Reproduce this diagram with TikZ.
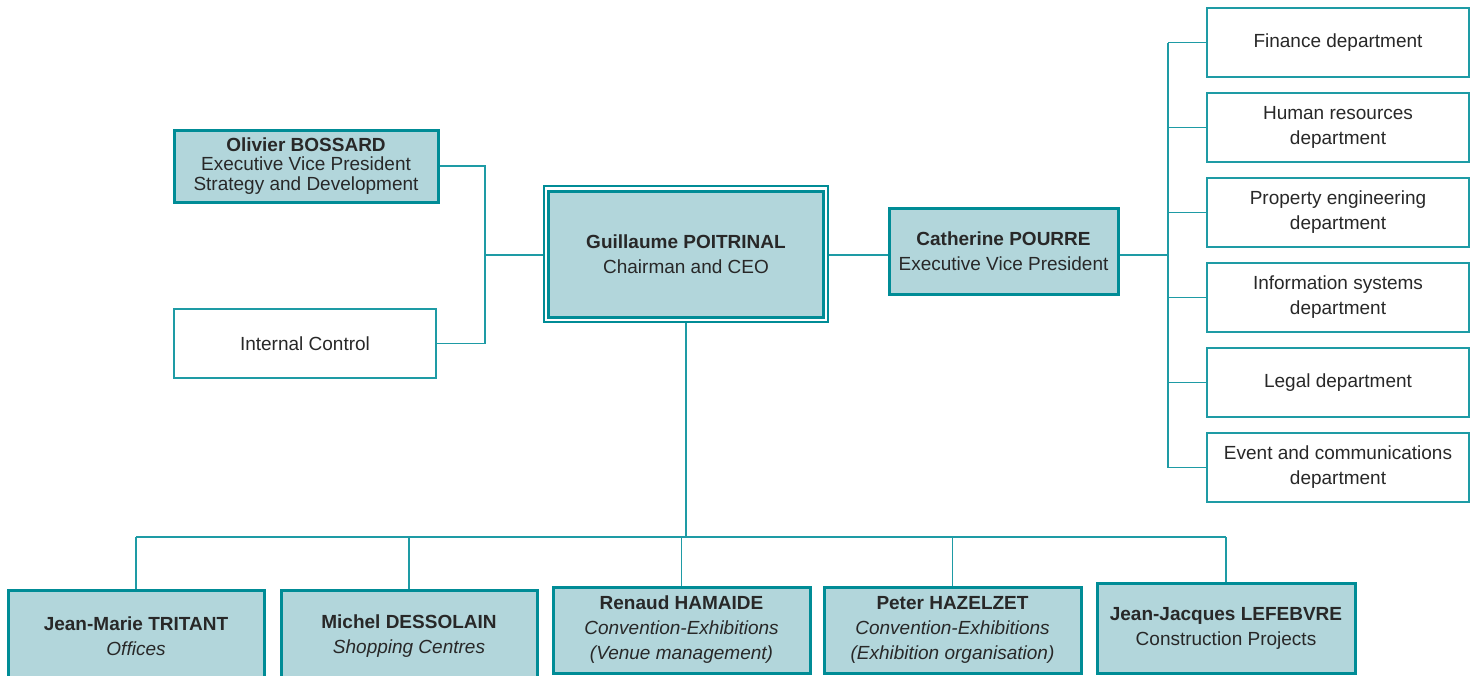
\documentclass[tikz,border=0pt]{standalone}
\usepackage{fontspec}
\setmainfont{Liberation Sans}
\usepackage{tikz}
\usetikzlibrary{positioning}

\definecolor{orgteal}{RGB}{0,140,150}
\definecolor{orglight}{RGB}{30,155,165}
\definecolor{orgfill}{RGB}{178,214,219}
\definecolor{orgtext}{RGB}{40,40,40}

\begin{document}
\begin{tikzpicture} [
            x=1pt, y=-1pt,
            % ----- Node definitions ----- %
            personnode/.style = {
                draw = orgteal,
                line width = 3pt,
                rectangle,
                fill = orgfill,
                align = center,
                text = orgtext,
                font = \fontsize{19}{25}\selectfont,
                inner sep = 0pt
            },
            deptnode/.style = {
                draw = orglight,
                line width = 1.3pt,
                rectangle,
                fill = white,
                align = center,
                text = orgtext,
                font = \fontsize{19}{25}\selectfont,
                minimum width = 262pt,
                minimum height = 69pt,
                inner sep = 0pt
            },
            link/.style = {
                draw = orglight,
                line width = 1.3pt
            },
    ]
    \useasboundingbox (0,0) rectangle (1475,675);

            % ----- Node constructions ----- %
        \node [personnode, minimum width=264pt, minimum height=72pt,
               font=\fontsize{19}{19.5}\selectfont] (bossard) at (306,166) {
            \textbf{Olivier BOSSARD}\\Executive Vice President\\Strategy and Development};
        \node [deptnode] (internal) at (305,343.5) {Internal Control};

        \node [draw=orgteal, line width=1.3pt, minimum width=284pt,
               minimum height=136pt] (ceoframe) at (686,254) {};
        \node [personnode, minimum width=275pt, minimum height=126pt] (ceo) at (686,254) {
            \textbf{Guillaume POITRINAL}\\Chairman and CEO};

        \node [personnode, minimum width=229pt, minimum height=86pt] (pourre) at (1003.5,251) {
            \textbf{Catherine POURRE}\\Executive Vice President};

        \node [deptnode] (finance) at (1338,42.5) {Finance department};
        \node [deptnode, below=14.7pt of finance] (hr) {Human resources\\department};
        \node [deptnode, below=14.7pt of hr] (property) {Property engineering\\department};
        \node [deptnode, below=14.7pt of property] (infosys) {Information systems\\department};
        \node [deptnode, below=14.7pt of infosys] (legal) {Legal department};
        \node [deptnode, below=14.7pt of legal] (event) {Event and communications\\department};

        \node [personnode, minimum width=256pt, minimum height=92pt] (tritant) at (136,636) {
            \textbf{Jean-Marie TRITANT}\\\textit{Offices}};
        \node [personnode, minimum width=256pt, minimum height=92pt] (dessolain) at (409,636) {
            \textbf{Michel DESSOLAIN}\\\textit{Shopping Centres}};
        \node [personnode, minimum width=257pt, minimum height=86pt] (hamaide) at (681.5,630) {
            \textbf{Renaud HAMAIDE}\\\textit{Convention-Exhibitions}\\\textit{(Venue management)}};
        \node [personnode, minimum width=257pt, minimum height=86pt] (hazelzet) at (952.5,630) {
            \textbf{Peter HAZELZET}\\\textit{Convention-Exhibitions}\\\textit{(Exhibition organisation)}};
        \node [personnode, minimum width=258pt, minimum height=90pt] (lefebvre) at (1226,628) {
            \textbf{Jean-Jacques LEFEBVRE}\\Construction Projects};

            % ----- Connectors ----- %
        \coordinate (lbus) at (485,255);
        \coordinate (rbus) at (1168,255);
        \coordinate (bbus) at (686,537);

        \draw [link] (bossard.east) -| (lbus) |- (internal.east);
        \draw [link] (lbus) -- (lbus -| ceoframe.west);
        \draw [link] (lbus -| ceoframe.east) -- (lbus -| pourre.west);
        \draw [link] (lbus -| pourre.east) -- (rbus);
        \draw [link] (finance.west -| rbus) -- (event.west -| rbus);
        \foreach \d in {finance, hr, property, infosys, legal, event}
            \draw [link] (\d.west -| rbus) -- (\d.west);

        \draw [link] (ceoframe.south) -- (bbus);
        \draw [link] (tritant.north |- bbus) -- (lefebvre.north |- bbus);
        \foreach \p in {tritant, dessolain, hamaide, hazelzet, lefebvre}
            \draw [link] (\p.north |- bbus) -- (\p.north);

\end{tikzpicture}
\end{document}
